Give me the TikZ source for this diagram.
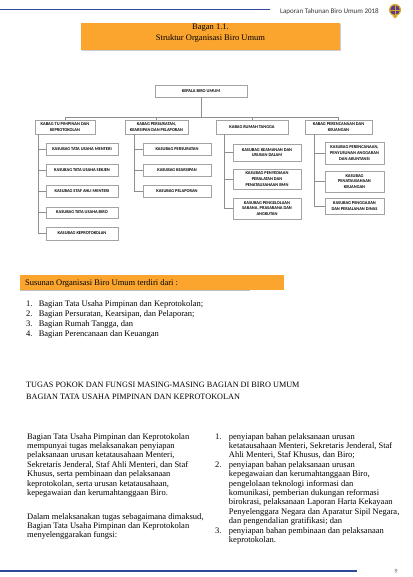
\documentclass[tikz,border=0pt]{standalone}
\usepackage{fontspec}
\setmainfont{Liberation Serif}
\newfontfamily\chartfont{Carlito}
\usetikzlibrary{calc,shadows}
\definecolor{birorange}{HTML}{FBA52E}
\definecolor{biroblue}{HTML}{2D4A9F}
\definecolor{boxgray}{HTML}{A3A3A3}
\definecolor{linkgray}{HTML}{8E8E8E}
\definecolor{emblem}{HTML}{5A3B8E}
\definecolor{emgold}{HTML}{D9A520}

\begin{document}
\begin{tikzpicture}[x=1pt,y=-1pt,
  font=\fontsize{8.5}{9.4}\selectfont,
  every node/.style={inner sep=0pt},
  orgbox/.style={draw=boxgray,line width=0.5pt,fill=white,
                 drop shadow={shadow xshift=0.6pt,shadow yshift=-0.6pt,fill=black!22},
                 align=center,font=\chartfont\bfseries\fontsize{4.4}{5.6}\selectfont},
  kabag/.style={orgbox,minimum height=14pt},
  kasubag/.style={orgbox,minimum height=11.5pt},
  link/.style={draw=linkgray,line width=0.6pt},
  body/.style={anchor=north west,align=left},
  caps/.style={anchor=base west,font=\fontsize{8.2}{9}\selectfont}
]
\useasboundingbox (0,0) rectangle (412,577);

% running head
\draw[biroblue,line width=1.7pt] (0,9.5) -- (270,9.5);
\node[anchor=west,font=\chartfont\fontsize{7}{8}\selectfont,text=black!80] (runhead) at (280,11.3) {Laporan Tahunan Biro Umum 2018};
\fill[emgold] (395,10) circle (6);
\fill[emblem] (395,10) circle (4.8);
\draw[emgold,line width=0.5pt] (390.4,10) -- (399.6,10);
\draw[emgold,line width=0.4pt] (395,5.4) -- (395,14.6);
\fill[emgold] (392.5,16) -- (397.5,16) -- (395,18.5) -- cycle;

% title band
\fill[black!20] (82,24) rectangle (341,51);
\fill[birorange] (81,23) rectangle (340,50);
\node[align=center,font=\fontsize{8.5}{10.8}\selectfont] (title) at (210.5,33) {Bagan 1.1.\\Struktur Organisasi Biro Umum};

% chart
\node[orgbox,minimum width=92pt,minimum height=12pt] (kepala) at (201,91) {KEPALA BIRO UMUM};

\node[kabag,minimum width=60pt] (kb1) at (65,127) {KABAG TU PIMPINAN DAN\\KEPROTOKOLAN};
\node[kabag,minimum width=63pt] (kb2) at (156.5,127) {KABAG PERSURATAN,\\KEARSIPAN DAN PELAPORAN};
\node[kabag,minimum width=72pt] (kb3) at (252,127) {KABAG RUMAH TANGGA};
\node[kabag,minimum width=67pt] (kb4) at (338.5,127) {KABAG PERENCANAAN DAN\\KEUANGAN};

\node[kasubag,minimum width=72pt] (ks11) at (82,149.5) {KASUBAG TATA USAHA MENTERI};
\node[kasubag,minimum width=72pt] (ks12) at (82,170.5) {KASUBAG TATA USAHA SEKJEN};
\node[kasubag,minimum width=72pt] (ks13) at (82,191.5) {KASUBAG STAF AHLI MENTERI};
\node[kasubag,minimum width=72pt] (ks14) at (82,212.5) {KASUBAG TATA USAHA BIRO};
\node[kasubag,minimum width=72pt,minimum height=13pt] (ks15) at (82,233.5) {KASUBAG KEPROTOKOLAN};

\node[kasubag,minimum width=68pt] (ks21) at (177,149.5) {KASUBAG PERSURATAN};
\node[kasubag,minimum width=68pt] (ks22) at (177,170.5) {KASUBAG KEARSIPAN};
\node[kasubag,minimum width=68pt] (ks23) at (177,191.5) {KASUBAG PELAPORAN};

\node[kasubag,minimum width=68pt,minimum height=17pt] (ks31) at (267,152.5) {KASUBAG KEAMANAN DAN\\URUSAN DALAM};
\node[kasubag,minimum width=68pt,minimum height=20pt] (ks32) at (267,179) {KASUBAG PENYEDIAAN\\PERALATAN DAN\\PENATAUSAHAAN BMN};
\node[kasubag,minimum width=68pt,minimum height=21pt] (ks33) at (267,208.5) {KASUBAG PENGELOLAAN\\SARANA, PRASARANA DAN\\ANGKUTAN};

\node[kasubag,minimum width=59pt,minimum height=22pt] (ks41) at (354.5,153) {KASUBAG PERENCANAAN,\\PENYUSUNAN ANGGARAN\\DAN AKUNTANSI};
\node[kasubag,minimum width=59pt,minimum height=21pt] (ks42) at (354.5,181.5) {KASUBAG\\PENATAUSAHAAN\\KEUANGAN};
\node[kasubag,minimum width=59pt,minimum height=16pt] (ks43) at (354.5,206) {KASUBAG PENGGAJIAN\\DAN PERJALANAN DINAS};

\coordinate (bus) at (201,117.5);
\draw[link] (kepala.south) -- (bus);
\draw[link] (kb1.north) |- (bus) -| (kb4.north);
\draw[link] (kb2.north) -- (kb2.north |- bus);
\draw[link] (kb3.north) -- (kb3.north |- bus);

\coordinate (v1) at ($(kb1.south west)+(4,0)$);
\coordinate (v2) at ($(kb2.south west)+(10,0)$);
\coordinate (v3) at ($(kb3.south west)+(9,0)$);
\coordinate (v4) at ($(kb4.south west)+(10,0)$);
\draw[link] (v1) |- (ks15.west) (ks11.west) -- (ks11.west -| v1)
  (ks12.west) -- (ks12.west -| v1) (ks13.west) -- (ks13.west -| v1)
  (ks14.west) -- (ks14.west -| v1);
\draw[link] (v2) |- (ks23.west) (ks21.west) -- (ks21.west -| v2)
  (ks22.west) -- (ks22.west -| v2);
\draw[link] (v3) |- (ks33.west) (ks31.west) -- (ks31.west -| v3)
  (ks32.west) -- (ks32.west -| v3);
\draw[link] (v4) |- (ks43.west) (ks41.west) -- (ks41.west -| v4)
  (ks42.west) -- (ks42.west -| v4);

% composition
\fill[birorange] (20,275) rectangle (284,290);
\draw[black!25,line width=0.8pt] (20,290.8) -- (250,290.8);
\node[anchor=west] (susunan) at (25,283.5) {Susunan Organisasi Biro Umum terdiri dari :};
\node[body,font=\fontsize{8.5}{10}\selectfont] (bagian) at (26,299.5) {\begin{tabular}{@{}l@{\hspace{6.2pt}}l@{}}
1. & Bagian Tata Usaha Pimpinan dan Keprotokolan;\\
2. & Bagian Persuratan, Kearsipan, dan Pelaporan;\\
3. & Bagian Rumah Tangga, dan\\
4. & Bagian Perencanaan dan Keuangan
\end{tabular}};

\node[caps] (tugas) at (26,387.7) {TUGAS POKOK DAN FUNGSI MASING-MASING BAGIAN DI BIRO UMUM};
\node[caps] (bagtu) at (26,399.7) {BAGIAN TATA USAHA PIMPINAN DAN KEPROTOKOLAN};

\node[body] (para1) at (27,432.3) {\begin{tabular}{@{}l@{}}
Bagian Tata Usaha Pimpinan dan Keprotokolan\\
mempunyai tugas melaksanakan penyiapan\\
pelaksanaan urusan ketatausahaan Menteri,\\
Sekretaris Jenderal, Staf Ahli Menteri, dan Staf\\
Khusus, serta pembinaan dan pelaksanaan\\
keprotokolan, serta urusan ketatausahaan,\\
kepegawaian dan kerumahtanggaan Biro.
\end{tabular}};
\node[body] (para2) at (27,512.3) {\begin{tabular}{@{}l@{}}
Dalam melaksanakan tugas sebagaimana dimaksud,\\
Bagian Tata Usaha Pimpinan dan Keprotokolan\\
menyelenggarakan fungsi:
\end{tabular}};

\node[body] (fungsi) at (215,432.3) {\begin{tabular}{@{}l@{\hspace{7.4pt}}l@{}}
1. & penyiapan bahan pelaksanaan urusan\\
   & ketatausahaan Menteri, Sekretaris Jenderal, Staf\\
   & Ahli Menteri, Staf Khusus, dan Biro;\\
2. & penyiapan bahan pelaksanaan urusan\\
   & kepegawaian dan kerumahtanggaan Biro,\\
   & pengelolaan teknologi informasi dan\\
   & komunikasi, pemberian dukungan reformasi\\
   & birokrasi, pelaksanaan Laporan Harta Kekayaan\\
   & Penyelenggara Negara dan Aparatur Sipil Negara,\\
   & dan pengendalian gratifikasi; dan\\
3. & penyiapan bahan pembinaan dan pelaksanaan\\
   & keprotokolan.
\end{tabular}};

% foot
\draw[biroblue,line width=1.5pt] (0,571) -- (357,571);
\node[font=\chartfont\fontsize{6.5}{7}\selectfont,text=black!60] (pageno) at (396,571) {9};
\end{tikzpicture}
\end{document}
